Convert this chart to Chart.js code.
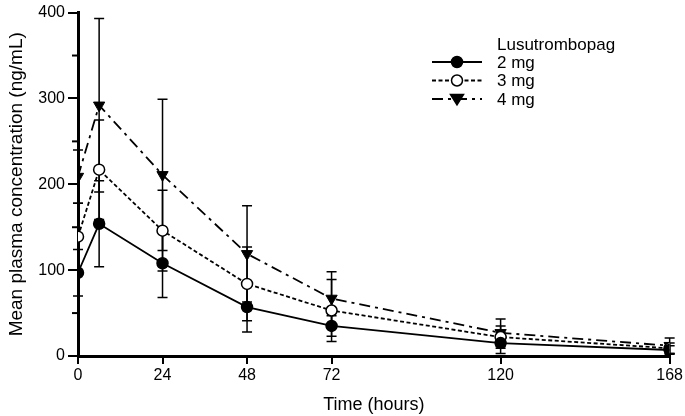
<!DOCTYPE html>
<html>
<head>
<meta charset="utf-8">
<script src="https://cdn.jsdelivr.net/npm/chart.js@4.4.1/dist/chart.umd.min.js"></script>
<style>
  html, body { margin: 0; padding: 0; background: #fff; }
  #wrap { width: 685px; height: 416px; }
</style>
</head>
<body>
<div id="wrap"><canvas id="chart"></canvas></div>
<script>
// sampling times (hours)
const times = [0, 6, 24, 48, 72, 120, 168]
const xTicks = [0, 24, 48, 72, 120, 168]

// mean plasma concentration and SD (ng/mL)
const mean2mg = [97, 154, 108, 57, 35, 15, 7]
const sd2mg = [27, 50, 40, 29, 12, 12, 5]
const mean3mg = [139, 217, 146, 84, 53, 22, 9]
const sd3mg = [39, 58, 47, 43, 36, 13, 6]
const mean4mg = [209, 292, 211, 119, 67, 27, 12]
const sd4mg = [31, 101, 88, 56, 31, 16, 9]

const legendTitle = "Lusutrombopag"
const doseLabels = ["2 mg", "3 mg", "4 mg"]

const FONT = "'Liberation Sans', Arial, Helvetica, sans-serif"

const toPoints = (ys) => times.map((t, i) => ({x: t, y: ys[i]}))

// error bars drawn under the markers
const errorBars = {
    id: 'errorBars',
    beforeDatasetsDraw(chart) {
        const {ctx, scales: {x, y}} = chart
        ctx.save()
        ctx.strokeStyle = '#000'
        ctx.lineWidth = 1.5
        chart.data.datasets.forEach(ds => {
            ds.sd.forEach((s, i) => {
                const px = x.getPixelForValue(times[i])
                const top = y.getPixelForValue(ds.data[i].y + s)
                const bot = y.getPixelForValue(Math.max(0, ds.data[i].y - s))
                ctx.beginPath()
                ctx.moveTo(px, top); ctx.lineTo(px, bot)
                ctx.moveTo(px - 5, top); ctx.lineTo(px + 5, top)
                ctx.moveTo(px - 5, bot); ctx.lineTo(px + 5, bot)
                ctx.stroke()
            })
        })
        ctx.restore()
    }
}

// minor ticks on y and the legend box
const extras = {
    id: 'extras',
    afterDraw(chart) {
        const {ctx, scales: {y}, chartArea} = chart
        ctx.save()
        ctx.strokeStyle = '#000'
        ctx.lineWidth = 2
        ;[50, 150, 250, 350].forEach(v => {
            const py = y.getPixelForValue(v)
            ctx.beginPath()
            ctx.moveTo(chartArea.left - 6, py)
            ctx.lineTo(chartArea.left, py)
            ctx.stroke()
        })

        ctx.fillStyle = '#000'
        ctx.font = '17px ' + FONT
        ctx.textBaseline = 'middle'
        ctx.textAlign = 'left'
        ctx.fillText(legendTitle, 497, 45)
        chart.data.datasets.forEach((ds, i) => {
            const ly = 62 + i * 18.5
            ctx.beginPath()
            ctx.setLineDash(ds.borderDash || [])
            ctx.lineWidth = ds.borderWidth
            ctx.moveTo(432, ly); ctx.lineTo(482, ly)
            ctx.stroke()
            ctx.setLineDash([])
            ctx.lineWidth = 1.5
            const r = ds.pointRadius
            ctx.fillStyle = ds.pointBackgroundColor
            ctx.beginPath()
            if (ds.pointStyle === 'triangle') {
                ctx.moveTo(457 - r, ly - r * 0.7)
                ctx.lineTo(457 + r, ly - r * 0.7)
                ctx.lineTo(457, ly + r * 0.9)
                ctx.closePath()
            } else {
                ctx.arc(457, ly, r, 0, Math.PI * 2)
            }
            ctx.fill(); ctx.stroke()
            ctx.fillStyle = '#000'
            ctx.fillText(ds.label, 497, ly + 1)
        })
        ctx.restore()
    }
}

const ctx = document.getElementById('chart').getContext('2d')
new Chart(ctx, {
    type: 'line',
    data: {
        datasets: [
            {
                label: doseLabels[0], data: toPoints(mean2mg), sd: sd2mg,
                borderColor: '#000', borderWidth: 1.8,
                pointStyle: 'circle', pointRadius: 5.5,
                pointBackgroundColor: '#000', pointBorderColor: '#000', pointBorderWidth: 1.5
            },
            {
                label: doseLabels[1], data: toPoints(mean3mg), sd: sd3mg,
                borderColor: '#000', borderWidth: 1.8, borderDash: [4, 2.5],
                pointStyle: 'circle', pointRadius: 5.5,
                pointBackgroundColor: '#fff', pointBorderColor: '#000', pointBorderWidth: 1.5
            },
            {
                label: doseLabels[2], data: toPoints(mean4mg), sd: sd4mg,
                borderColor: '#000', borderWidth: 1.8, borderDash: [11, 5, 3, 5],
                pointStyle: 'triangle', pointRotation: 180, pointRadius: 6.5,
                pointBackgroundColor: '#000', pointBorderColor: '#000', pointBorderWidth: 1
            }
        ]
    },
    options: {
        responsive: true,
        maintainAspectRatio: false,
        animation: false,
        layout: {padding: {top: 10, right: 15, left: 0, bottom: 0}},
        plugins: {
            legend: {display: false},
            tooltip: {enabled: false}
        },
        scales: {
            x: {
                type: 'linear', min: 0, max: 168,
                afterBuildTicks: axis => { axis.ticks = xTicks.map(v => ({value: v})) },
                afterFit: s => { s.height = 60 },
                grid: {drawOnChartArea: false, drawTicks: true, tickLength: 8, color: '#000', lineWidth: 2},
                border: {color: '#000', width: 3},
                ticks: {color: '#000', font: {family: FONT, size: 16}, padding: 2, maxRotation: 0},
                title: {display: true, text: 'Time (hours)', color: '#000',
                        font: {family: FONT, size: 18}, padding: {top: 0, bottom: 0}}
            },
            y: {
                min: 0, max: 400,
                afterFit: s => { s.width = 78 },
                grid: {drawOnChartArea: false, drawTicks: true, tickLength: 10, color: '#000', lineWidth: 2},
                border: {color: '#000', width: 3},
                ticks: {stepSize: 100, color: '#000', font: {family: FONT, size: 16}, padding: 3},
                title: {display: true, text: 'Mean plasma concentration (ng/mL)', color: '#000',
                        font: {family: FONT, size: 19}, padding: {top: 5, bottom: 0}}
            }
        }
    },
    plugins: [errorBars, extras]
})
</script>
</body>
</html>
